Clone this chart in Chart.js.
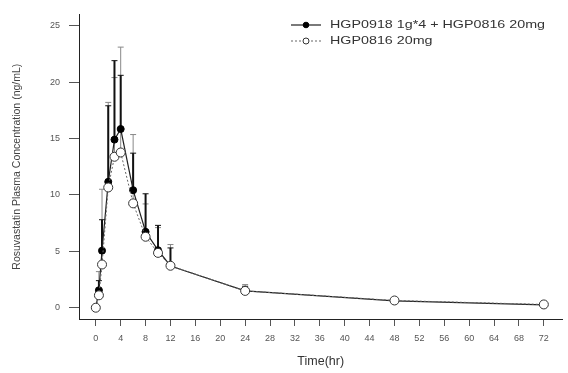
<!DOCTYPE html>
<html>
<head>
<meta charset="utf-8">
<script src="https://cdn.jsdelivr.net/npm/chart.js@4/dist/chart.umd.min.js"></script>
<style>
  body { margin: 0; background: #fff; }
  #wrap { width: 568px; height: 373px; }
</style>
</head>
<body>
<div id="wrap"><canvas id="pk_chart" width="568" height="373"></canvas></div>
<script>
// sampling times (hr)
const times = [0, 0.5, 1, 2, 3, 4, 6, 8, 10, 12, 24, 48, 72]

// mean concentrations (ng/mL)
const conc_combo = [0, 1.55, 5.06, 11.16, 14.9, 15.84, 10.42, 6.73, 5.1, 3.7, 1.5, 0.6, 0.25]
const conc_mono = [0, 1.1, 3.83, 10.66, 13.38, 13.76, 9.25, 6.29, 4.86, 3.72, 1.49, 0.64, 0.29]

// standard deviations (only the upper bar is drawn)
const sd_combo = [0, 0.85, 2.74, 6.74, 7.0, 4.76, 3.28, 3.37, 2.2, 1.6, 0.4, 0.2, 0.1]
const sd_mono = [0, 2.1, 6.67, 7.54, 7.02, 9.34, 6.1, 2.91, 2.24, 1.88, 0.56, 0.2, 0.1]

const labels = ['HGP0918 1g*4 + HGP0816 20mg', 'HGP0816 20mg']

// tick labels
const x_ticks = [0, 4, 8, 12, 16, 20, 24, 28, 32, 36, 40, 44, 48, 52, 56, 60, 64, 68, 72]
const y_ticks = [0, 5, 10, 15, 20, 25]

const FONT = "'Liberation Sans', Arial, sans-serif"

// upper error bars, drawn under the markers
const errorBars = {
  id: 'errorBars',
  beforeDatasetsDraw(chart) {
    const ctx = chart.ctx
    const xs = chart.scales.x, ys = chart.scales.y
    const bars = [
      { sd: sd_combo, color: '#111', width: 2 },
      { sd: sd_mono, color: '#888', width: 1 },
    ]
    // grey bars first, black ones on top
    for (let i = bars.length - 1; i >= 0; i--) {
      const ds = chart.data.datasets[i]
      ctx.save()
      ctx.strokeStyle = bars[i].color
      ds.data.forEach((p, j) => {
        if (!bars[i].sd[j]) return
        const px = xs.getPixelForValue(p.x)
        const py = ys.getPixelForValue(p.y)
        const top = ys.getPixelForValue(p.y + bars[i].sd[j])
        ctx.lineWidth = bars[i].width
        ctx.beginPath()
        ctx.moveTo(px, py)
        ctx.lineTo(px, top)
        ctx.stroke()
        ctx.lineWidth = 1
        ctx.beginPath()
        ctx.moveTo(px - 3, top)
        ctx.lineTo(px + 3, top)
        ctx.stroke()
      })
      ctx.restore()
    }
  }
}

// legend in the top right corner: line + marker + text
// (the original picture is stretched sideways, so the text is too)
const lineLegend = {
  id: 'lineLegend',
  afterDraw(chart) {
    const ctx = chart.ctx
    const x0 = 291, x1 = 321, tx = 330
    const rows = [25, 41]
    ctx.save()
    chart.data.datasets.forEach((ds, i) => {
      const y = rows[i]
      ctx.strokeStyle = ds.borderColor
      ctx.lineWidth = ds.borderWidth
      ctx.setLineDash(ds.borderDash || [])
      ctx.beginPath()
      ctx.moveTo(x0, y)
      ctx.lineTo(x1, y)
      ctx.stroke()
      ctx.setLineDash([])
      ctx.beginPath()
      ctx.arc((x0 + x1) / 2, y, i == 0 ? 2.8 : 3, 0, Math.PI * 2)
      ctx.fillStyle = ds.pointBackgroundColor
      ctx.fill()
      ctx.lineWidth = 1
      ctx.strokeStyle = ds.pointBorderColor
      ctx.stroke()
      ctx.save()
      ctx.translate(tx, y)
      ctx.scale(1.3, 1)
      ctx.fillStyle = '#333'
      ctx.font = '11px ' + FONT
      ctx.textBaseline = 'middle'
      ctx.fillText(ds.label, 0, 0)
      ctx.restore()
    })
    ctx.restore()
  }
}

const chart = new Chart(document.querySelector('#pk_chart'), {
  type: 'line',
  data: {
    datasets: [
      {
        label: labels[0],
        data: times.map((t, i) => ({ x: t, y: conc_combo[i] })),
        borderColor: '#222',
        borderWidth: 1.2,
        pointRadius: 3.5,
        pointBackgroundColor: '#000',
        pointBorderColor: '#000',
        pointBorderWidth: 1,
        order: 1,
      },
      {
        label: labels[1],
        data: times.map((t, i) => ({ x: t, y: conc_mono[i] })),
        borderColor: '#666',
        borderWidth: 1,
        borderDash: [2, 2],
        pointRadius: 4.5,
        pointBackgroundColor: '#fff',
        pointBorderColor: '#333',
        pointBorderWidth: 1,
        order: 0,
      },
    ]
  },
  options: {
    responsive: false,
    animation: false,
    layout: { padding: { top: 11, right: 0, left: 0, bottom: 0 } },
    plugins: {
      legend: { display: false },
      tooltip: { enabled: false },
    },
    scales: {
      x: {
        type: 'linear',
        min: -2.7,
        max: 75,
        afterBuildTicks: s => { s.ticks = x_ticks.map(v => ({ value: v })) },
        afterFit: s => { s.height = 54 },
        grid: { drawOnChartArea: false, drawTicks: true, tickLength: 7, color: '#555' },
        border: { display: true, color: '#222', width: 1 },
        ticks: { color: '#555', font: { family: FONT, size: 9 }, padding: 7, maxRotation: 0, autoSkip: false },
        title: { display: true, text: 'Time(hr)', color: '#333', font: { family: FONT, size: 12.5 }, padding: { top: 0, bottom: 3.5 } },
      },
      y: {
        min: -1,
        max: 26,
        afterBuildTicks: s => { s.ticks = y_ticks.map(v => ({ value: v })) },
        afterFit: s => { s.width = 79 },
        grid: { drawOnChartArea: false, drawTicks: true, tickLength: 10, color: '#555' },
        border: { display: true, color: '#222', width: 1 },
        ticks: { color: '#555', font: { family: FONT, size: 9 }, padding: 9 },
        title: { display: true, text: 'Rosuvastatin Plasma Concentration (ng/mL)', color: '#444', font: { family: FONT, size: 10.5 }, padding: { top: 11, bottom: 0 } },
      },
    }
  },
  plugins: [errorBars, lineLegend]
})
</script>
</body>
</html>
